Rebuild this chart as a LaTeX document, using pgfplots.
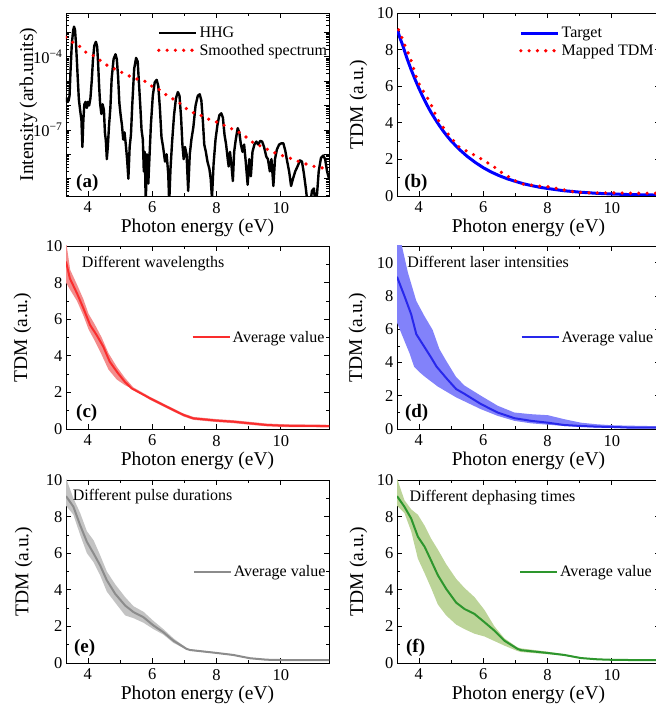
\documentclass[border=0pt]{standalone}
\usepackage{fontspec}
\setmainfont{Liberation Serif}
\usepackage{pgfplots}
\pgfplotsset{compat=1.18}
\usepgfplotslibrary{fillbetween}

\definecolor{cred}{RGB}{250,45,45}
\definecolor{credband}{RGB}{243,140,140}
\definecolor{cblue}{RGB}{40,40,235}
\definecolor{cblueband}{RGB}{130,130,250}
\definecolor{cgray}{RGB}{140,140,140}
\definecolor{cgrayband}{RGB}{195,195,195}
\definecolor{cgreen}{RGB}{45,150,45}
\definecolor{cgreenband}{RGB}{188,212,152}

\tikzset{
  plab/.style={font=\fontsize{19}{21}\selectfont\bfseries, anchor=west, inner sep=0pt},
  annot/.style={font=\fontsize{16}{19}\selectfont, anchor=west, inner sep=0pt},
  dotline/.style={line width=3.6pt, line cap=round, dash pattern=on 0pt off 8.3pt},
}
\pgfplotsset{
  panel/.style={
    scale only axis, width=263pt, height=183pt, anchor=south west,
    xmin=3.32, xmax=11.5,
    xtick={4,6,8,10}, minor x tick num=1,
    tick align=inside,
    major tick length=5pt, minor tick length=3pt,
    axis line style={line width=0.8pt},
    tick style={black, line width=0.6pt},
    tick label style={font=\fontsize{16.5}{18}\selectfont},
    /pgf/number format/assume math mode=true,
    label style={font=\fontsize{19.5}{22}\selectfont},
    xlabel={Photon energy (eV)},
    xlabel style={at={(axis description cs:0.5,0)}, anchor=base, yshift=-37pt},
    xticklabel style={yshift=-2.5pt},
    legend style={draw=none, fill=none, inner sep=0pt, outer sep=0pt,
      font=\fontsize{16}{19}\selectfont, cells={anchor=west}, row sep=1pt},
    legend image code/.code={\draw[##1] (0pt,0pt) -- (37pt,0pt);},
  },
  lin/.style={ytick={0,2,4,6,8,10}, minor y tick num=1},
}

\begin{document}
\begin{tikzpicture}
% ---------------- (a)
\begin{axis}[panel, at={(66pt,517pt)},
  ymin=-9.71, ymax=-2.21,
  ytick={-9,-8,-7,-6,-5,-4,-3},
  yticklabels={{},{},{10\textsuperscript{−7}},{},{},{10\textsuperscript{−4}},{}},
  minor ytick={-9.699,-9.523,-9.398,-9.301,-9.222,-9.155,-9.097,-9.046,
   -8.699,-8.523,-8.398,-8.301,-8.222,-8.155,-8.097,-8.046,
   -7.699,-7.523,-7.398,-7.301,-7.222,-7.155,-7.097,-7.046,
   -6.699,-6.523,-6.398,-6.301,-6.222,-6.155,-6.097,-6.046,
   -5.699,-5.523,-5.398,-5.301,-5.222,-5.155,-5.097,-5.046,
   -4.699,-4.523,-4.398,-4.301,-4.222,-4.155,-4.097,-4.046,
   -3.699,-3.523,-3.398,-3.301,-3.222,-3.155,-3.097,-3.046,
   -2.699,-2.523,-2.398,-2.301},
  ylabel={Intensity (arb.units)},
  ylabel style={at={(axis description cs:-0.125,0.5)}, anchor=base},
  legend style={at={(rel axis cs:0.346,0.935)}, anchor=north west},
]
\addplot[black, line width=2.4pt, line join=round] coordinates {
(3.30,-5.85)(3.34,-5.70)(3.37,-5.86)(3.40,-5.80)(3.43,-5.60)(3.46,-4.60)(3.50,-3.50)(3.54,-2.95)(3.57,-2.77)(3.60,-2.90)
(3.63,-3.45)(3.66,-4.20)(3.69,-5.00)(3.72,-5.75)(3.76,-6.20)(3.80,-6.60)(3.83,-7.70)(3.86,-6.60)(3.89,-5.95)(3.93,-5.85)
(3.97,-6.10)(4.00,-5.85)(4.04,-6.00)(4.08,-5.70)(4.12,-5.00)(4.16,-4.10)(4.20,-3.55)(4.25,-3.39)(4.29,-3.60)(4.32,-4.30)
(4.35,-5.20)(4.38,-5.90)(4.42,-6.35)(4.46,-5.95)(4.50,-6.20)(4.53,-7.10)(4.56,-7.45)(4.59,-8.20)(4.62,-7.70)(4.66,-6.80)
(4.70,-6.10)(4.74,-4.90)(4.80,-4.10)(4.86,-3.90)(4.90,-4.10)(4.94,-4.80)(4.98,-5.90)(5.02,-6.40)(5.06,-6.80)(5.10,-7.40)
(5.14,-7.10)(5.18,-7.60)(5.22,-8.20)(5.26,-9.00)(5.30,-7.70)(5.34,-7.20)(5.38,-6.00)(5.44,-4.50)(5.50,-4.05)(5.55,-4.20)
(5.59,-5.10)(5.63,-6.00)(5.67,-7.00)(5.71,-7.40)(5.74,-8.70)(5.77,-7.90)(5.80,-10.0)(5.84,-8.00)(5.88,-9.20)(5.92,-8.00)
(5.96,-6.80)(6.02,-5.60)(6.08,-5.05)(6.14,-4.95)(6.19,-5.20)(6.24,-6.10)(6.29,-7.30)(6.34,-7.70)(6.40,-8.30)(6.45,-8.00)
(6.50,-8.80)(6.53,-10.0)(6.57,-8.60)(6.62,-7.50)(6.68,-6.40)(6.74,-5.70)(6.80,-5.45)(6.85,-5.60)(6.90,-6.50)(6.94,-7.60)
(6.98,-8.20)(7.02,-7.70)(7.07,-8.00)(7.12,-9.50)(7.17,-8.00)(7.22,-7.40)(7.28,-6.90)(7.35,-6.00)(7.42,-5.60)(7.48,-5.54)
(7.53,-5.80)(7.58,-6.70)(7.62,-7.60)(7.67,-7.90)(7.72,-8.30)(7.78,-8.60)(7.82,-9.00)(7.86,-9.80)(7.91,-8.40)(7.97,-7.40)
(8.03,-6.80)(8.09,-6.40)(8.15,-6.32)(8.20,-6.50)(8.25,-7.20)(8.30,-7.60)(8.35,-8.20)(8.38,-8.50)(8.42,-7.90)(8.47,-8.50)
(8.51,-9.10)(8.55,-7.90)(8.60,-7.40)(8.66,-6.93)(8.71,-7.10)(8.76,-7.60)(8.81,-7.90)(8.86,-7.60)(8.91,-8.30)(8.97,-9.25)
(9.02,-8.20)(9.07,-8.90)(9.12,-7.90)(9.18,-7.60)(9.24,-7.48)(9.30,-7.60)(9.36,-7.45)(9.42,-7.48)(9.48,-7.70)(9.55,-8.10)
(9.60,-8.20)(9.66,-8.70)(9.71,-8.20)(9.77,-9.30)(9.82,-8.20)(9.88,-7.80)(9.95,-7.60)(10.02,-7.55)(10.08,-7.55)(10.14,-7.85)
(10.20,-8.30)(10.26,-8.70)(10.32,-9.30)(10.38,-9.00)(10.45,-8.70)(10.52,-8.50)(10.60,-8.25)(10.66,-8.30)(10.72,-8.80)(10.78,-9.40)
(10.83,-10.0)(10.90,-10.2)(10.97,-9.50)(11.03,-9.40)(11.08,-10.1)(11.13,-9.60)(11.18,-8.70)(11.25,-8.15)(11.32,-8.05)(11.38,-8.20)
(11.44,-8.70)(11.50,-9.00)
};
\addlegendentry{HHG}
\addplot[red, dotline] coordinates {
(3.317,-3.205)(3.525,-3.41)(3.73,-3.56)(3.94,-3.82)(4.19,-3.97)(4.39,-4.16)(4.63,-4.38)(4.86,-4.52)(5.08,-4.66)(5.33,-4.82)
(5.56,-4.93)(5.80,-5.02)(6.01,-5.23)(6.24,-5.36)(6.44,-5.57)(6.67,-5.75)(6.91,-5.95)(7.11,-6.18)(7.32,-6.32)(7.56,-6.43)
(7.77,-6.57)(8.05,-6.70)(8.29,-6.84)(8.51,-6.98)(8.72,-7.11)(8.95,-7.32)(9.19,-7.58)(9.44,-7.69)(9.65,-7.85)(9.91,-7.99)
(10.15,-8.10)(10.40,-8.21)(10.64,-8.34)(10.89,-8.44)(11.12,-8.53)(11.36,-8.57)(11.5,-8.62)
};
\addlegendentry{Smoothed spectrum}
\node[plab] at (rel axis cs:0.038,0.073) {(a)};
\end{axis}
% ---------------- (b)
\begin{axis}[panel, lin, at={(397pt,517pt)},
  ymin=0, ymax=10,
  ylabel={TDM (a.u.)},
  ylabel style={at={(axis description cs:-0.129,0.5)}, anchor=base},
  legend style={at={(rel axis cs:0.464,0.932)}, anchor=north west},
]
\addplot[blue, line width=3pt] coordinates {
(3.33,9.10)(3.40,8.70)(3.50,8.22)(3.625,7.55)(3.75,6.95)(3.875,6.40)(4.00,5.89)(4.125,5.42)(4.25,4.98)(4.375,4.58)
(4.50,4.22)(4.625,3.88)(4.75,3.57)(4.875,3.28)(5.00,3.02)(5.25,2.56)(5.50,2.17)(5.75,1.84)(6.00,1.55)(6.25,1.31)
(6.50,1.11)(6.75,0.94)(7.00,0.80)(7.25,0.67)(7.50,0.57)(7.75,0.48)(8.00,0.41)(8.25,0.35)(8.50,0.29)(8.75,0.25)
(9.00,0.21)(9.50,0.15)(10.00,0.11)(10.50,0.08)(11.00,0.06)(11.50,0.05)
};
\addlegendentry{Target}
\addplot[red, dotline] coordinates {
(3.37,9.08)(3.47,8.66)(3.57,8.22)(3.68,7.76)(3.78,7.30)(3.86,6.84)(3.94,6.39)(4.05,5.96)(4.20,5.56)(4.34,5.14)
(4.45,4.72)(4.56,4.26)(4.69,3.91)(4.86,3.49)(5.02,3.17)(5.19,2.75)(5.42,2.51)(5.62,2.33)(5.83,2.15)(6.06,1.89)
(6.30,1.65)(6.52,1.34)(6.76,1.08)(7.00,0.83)(7.26,0.64)(7.52,0.59)(7.78,0.53)(8.06,0.50)(8.32,0.40)(8.57,0.31)
(8.85,0.22)(9.14,0.18)(9.68,0.17)(10.21,0.17)(10.75,0.15)(11.27,0.15)(11.5,0.15)
};
\addlegendentry{Mapped TDM}
\node[plab] at (rel axis cs:0.027,0.073) {(b)};
\end{axis}
% ---------------- (c)
\begin{axis}[panel, lin, at={(66pt,284pt)},
  ymin=0, ymax=10,
  ylabel={TDM (a.u.)},
  ylabel style={at={(axis description cs:-0.148,0.5)}, anchor=base},
  legend style={at={(rel axis cs:0.478,0.5)}, anchor=west},
]
\addplot[name path=U, draw=none, forget plot] coordinates {
(3.32,10.3)(3.45,8.7)(3.66,7.9)(3.86,7.1)(4.02,6.3)(4.22,5.7)(4.43,5.0)(4.64,4.15)(4.90,3.4)(5.15,2.8)
(5.41,2.28)(5.93,1.76)(6.45,1.30)(6.97,0.85)(7.28,0.66)(8.00,0.54)(8.52,0.48)(9.04,0.39)(9.55,0.30)(10.07,0.26)(11.5,0.23)
};
\addplot[name path=L, draw=none, forget plot] coordinates {
(3.32,8.0)(3.45,7.6)(3.66,7.0)(3.86,6.2)(4.02,5.45)(4.22,4.8)(4.43,4.05)(4.64,3.25)(4.90,2.7)(5.15,2.4)
(5.41,2.17)(5.93,1.60)(6.45,1.14)(6.97,0.69)(7.28,0.50)(8.00,0.38)(8.52,0.32)(9.04,0.23)(9.55,0.15)(10.07,0.11)(11.5,0.09)
};
\addplot[credband, draw=none, forget plot] fill between[of=U and L];
\addplot[cred, line width=2pt] coordinates {
(3.32,9.15)(3.44,8.23)(3.66,7.42)(3.86,6.60)(4.07,5.68)(4.27,5.14)(4.48,4.50)(4.68,3.68)(4.94,3.04)(5.15,2.58)
(5.36,2.22)(5.93,1.68)(6.45,1.22)(6.97,0.77)(7.28,0.58)(8.00,0.46)(8.52,0.40)(9.04,0.31)(9.55,0.22)(10.07,0.18)(11.5,0.16)
};
\addlegendentry{Average value}
\node[annot] at (rel axis cs:0.06,0.905) {Different wavelengths};
\node[plab] at (rel axis cs:0.038,0.087) {(c)};
\end{axis}
% ---------------- (d)
\begin{axis}[panel, lin, at={(397pt,284pt)},
  ymin=0, ymax=11,
  ylabel={TDM (a.u.)},
  ylabel style={at={(axis description cs:-0.133,0.5)}, anchor=base},
  legend style={at={(rel axis cs:0.470,0.5)}, anchor=west},
]
\addplot[name path=U, draw=none, forget plot] coordinates {
(3.32,12.5)(3.45,11.2)(3.66,9.4)(3.92,7.7)(4.17,6.8)(4.43,5.95)(4.64,4.8)(4.85,4.1)(5.16,3.12)(5.42,2.61)
(5.93,2.0)(6.45,1.40)(6.97,0.99)(7.49,0.89)(8.01,0.83)(8.52,0.59)(9.04,0.38)(9.56,0.28)(10.07,0.22)(11.11,0.18)(11.5,0.18)
};
\addplot[name path=L, draw=none, forget plot] coordinates {
(3.32,6.4)(3.55,5.3)(3.72,4.5)(3.85,3.75)(4.00,3.45)(4.18,3.15)(4.59,2.55)(5.16,1.90)(5.93,1.19)(6.45,0.79)
(6.97,0.49)(7.49,0.34)(8.52,0.18)(9.56,0.08)(10.59,0.04)(11.5,0.04)
};
\addplot[cblueband, draw=none, forget plot] fill between[of=U and L];
\addplot[cblue, line width=2pt] coordinates {
(3.32,9.15)(3.55,8.00)(3.76,6.90)(3.92,5.70)(4.15,5.00)(4.38,4.30)(4.55,3.75)(4.88,3.00)(5.16,2.40)(5.42,2.11)
(5.93,1.50)(6.45,0.99)(6.97,0.65)(7.49,0.49)(8.01,0.38)(8.52,0.24)(9.04,0.18)(9.56,0.14)(10.07,0.12)(10.59,0.08)(11.5,0.08)
};
\addlegendentry{Average value}
\node[annot] at (rel axis cs:0.039,0.911) {Different laser intensities};
\node[plab] at (rel axis cs:0.030,0.087) {(d)};
\end{axis}
% ---------------- (e)
\begin{axis}[panel, lin, at={(66pt,50pt)},
  ymin=0, ymax=10,
  ylabel={TDM (a.u.)},
  ylabel style={at={(axis description cs:-0.143,0.5)}, anchor=base},
  legend style={at={(rel axis cs:0.482,0.5)}, anchor=west},
]
\addplot[name path=U, draw=none, forget plot] coordinates {
(3.32,10.1)(3.55,9.0)(3.76,8.2)(3.97,7.2)(4.18,6.7)(4.38,5.9)(4.59,5.0)(4.85,4.3)(5.16,3.6)(5.42,3.1)
(5.73,2.8)(6.04,2.3)(6.35,1.85)(6.66,1.35)(7.07,0.82)(7.18,0.74)(8.00,0.58)(8.52,0.47)(9.04,0.29)(9.56,0.21)(10.07,0.19)(11.5,0.19)
};
\addplot[name path=L, draw=none, forget plot] coordinates {
(3.32,8.6)(3.55,8.1)(3.76,7.0)(3.97,6.0)(4.18,5.5)(4.38,4.8)(4.59,3.9)(4.85,3.3)(5.16,2.6)(5.42,2.45)
(5.73,2.2)(6.04,1.85)(6.35,1.55)(6.66,1.1)(7.07,0.73)(7.18,0.68)(8.00,0.52)(8.52,0.41)(9.04,0.23)(9.56,0.15)(10.07,0.13)(11.5,0.13)
};
\addplot[cgrayband, draw=none, forget plot] fill between[of=U and L];
\addplot[cgray, line width=2pt] coordinates {
(3.32,9.12)(3.55,8.54)(3.76,7.53)(3.97,6.62)(4.18,5.98)(4.38,5.34)(4.59,4.52)(4.85,3.78)(5.16,3.14)(5.42,2.78)
(5.73,2.50)(6.04,2.05)(6.35,1.68)(6.66,1.22)(7.07,0.77)(7.18,0.71)(8.00,0.55)(8.52,0.44)(9.04,0.26)(9.56,0.18)(10.07,0.16)(11.5,0.16)
};
\addlegendentry{Average value}
\node[annot] at (rel axis cs:0.025,0.909) {Different pulse durations};
\node[plab] at (rel axis cs:0.030,0.082) {(e)};
\end{axis}
% ---------------- (f)
\begin{axis}[panel, lin, at={(397pt,50pt)},
  ymin=0, ymax=10,
  ylabel={TDM (a.u.)},
  ylabel style={at={(axis description cs:-0.129,0.5)}, anchor=base},
  legend style={at={(rel axis cs:0.464,0.5)}, anchor=west},
]
\addplot[name path=U, draw=none, forget plot] coordinates {
(3.32,10.1)(3.55,8.9)(3.76,8.4)(3.97,8.1)(4.18,7.5)(4.38,6.8)(4.59,6.2)(4.85,5.4)(5.16,4.6)(5.42,4.1)
(5.73,3.6)(6.04,2.9)(6.35,2.0)(6.66,1.35)(7.07,0.85)(7.18,0.80)(8.00,0.62)(8.52,0.48)(9.04,0.30)(9.56,0.23)(10.07,0.20)(11.5,0.18)
};
\addplot[name path=L, draw=none, forget plot] coordinates {
(3.32,8.6)(3.55,8.2)(3.76,7.2)(3.97,5.7)(4.18,4.9)(4.38,4.1)(4.59,3.2)(4.85,2.6)(5.16,2.1)(5.42,1.85)
(5.73,1.6)(6.04,1.45)(6.35,1.2)(6.66,0.95)(7.07,0.65)(7.18,0.60)(8.00,0.48)(8.52,0.40)(9.04,0.24)(9.56,0.17)(10.07,0.14)(11.5,0.12)
};
\addplot[cgreenband, draw=none, forget plot] fill between[of=U and L];
\addplot[cgreen, line width=2pt] coordinates {
(3.32,9.12)(3.55,8.54)(3.76,7.90)(3.97,6.90)(4.18,6.35)(4.38,5.60)(4.59,4.80)(4.85,4.05)(5.16,3.30)(5.42,2.95)
(5.73,2.68)(6.04,2.23)(6.35,1.77)(6.66,1.22)(7.07,0.77)(7.18,0.70)(8.00,0.55)(8.52,0.44)(9.04,0.27)(9.56,0.20)(10.07,0.17)(11.5,0.15)
};
\addlegendentry{Average value}
\node[annot] at (rel axis cs:0.047,0.905) {Different dephasing times};
\node[plab] at (rel axis cs:0.034,0.082) {(f)};
\end{axis}
\pgfresetboundingbox
\useasboundingbox (0pt,0pt) rectangle (656pt,713pt);
\end{tikzpicture}
\end{document}
